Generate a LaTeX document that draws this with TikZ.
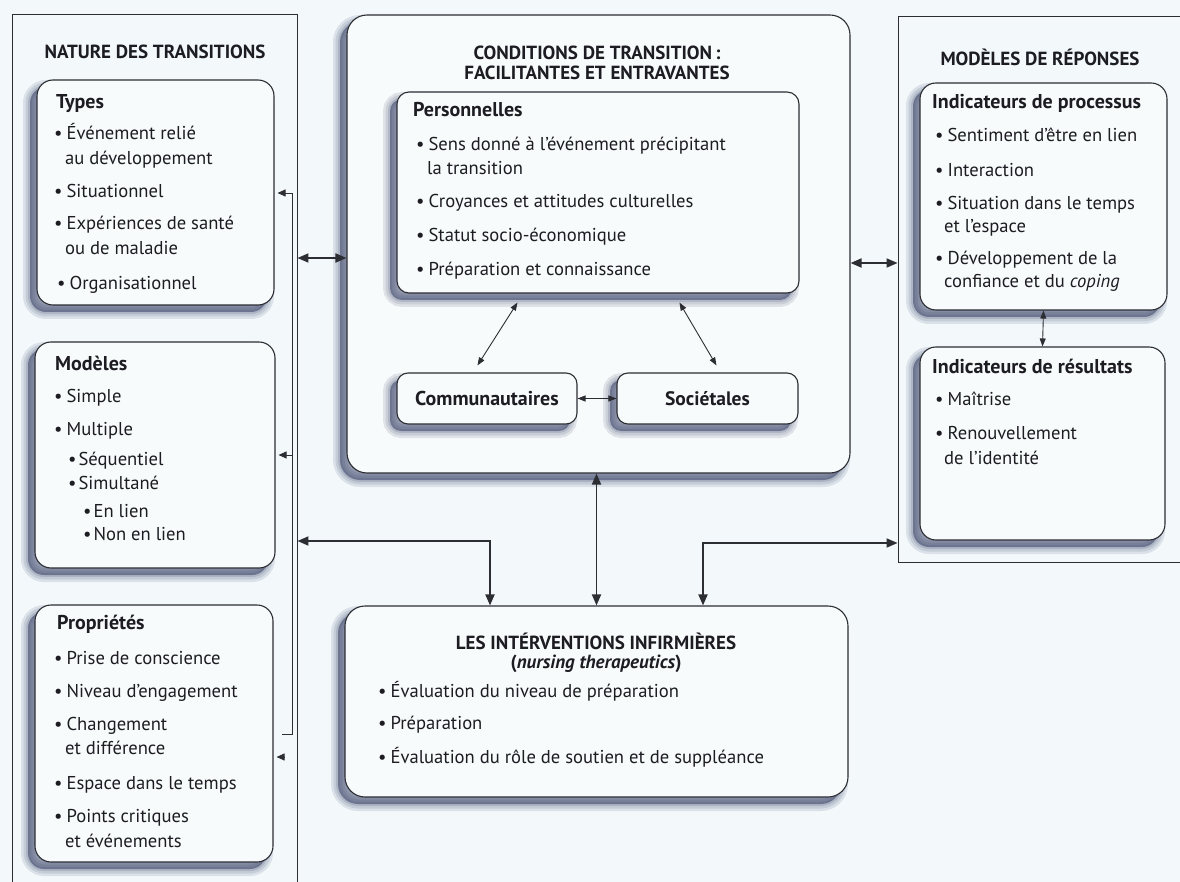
\documentclass[tikz,border=0pt]{standalone}
\usepackage{fontspec}
\setmainfont{PT Sans}
\usetikzlibrary{arrows.meta,calc}
\definecolor{bgc}{RGB}{243,249,251}
\definecolor{boxc}{RGB}{248,251,252}
\definecolor{linec}{RGB}{45,45,52}
\definecolor{txt}{RGB}{28,28,34}
\definecolor{shc}{RGB}{45,55,95}
\newcommand\bul{\textbullet\hspace{4pt}}
\newcommand\bulS{\textbullet\hspace{2pt}}
\tikzset{
  softshadow/.style={
    preaction={fill=shc, fill opacity=0.5, transform canvas={xshift=-7pt,yshift=-7pt}},
    preaction={draw=shc, draw opacity=0.12, line width=14pt, transform canvas={xshift=-7pt,yshift=-7pt}},
    preaction={draw=shc, draw opacity=0.12, line width=9pt, transform canvas={xshift=-7pt,yshift=-7pt}},
    preaction={draw=shc, draw opacity=0.15, line width=4pt, transform canvas={xshift=-7pt,yshift=-7pt}}
  },
  rbox/.style={draw=linec, line width=1.1pt, fill=boxc, rounded corners=16pt, softshadow, inner sep=0pt},
  sbox/.style={draw=linec, line width=1.1pt, fill=boxc, rounded corners=11pt, softshadow, inner sep=0pt,
    text=txt},
  obox/.style={draw=linec, line width=0.9pt, inner sep=0pt},
  t/.style={anchor=mid west, inner sep=0pt, text=txt, font=\fontsize{18.6}{21}\selectfont},
  hd/.style={anchor=mid west, inner sep=0pt, text=txt, font=\bfseries\fontsize{20}{22}\selectfont},
  ttl/.style={inner sep=0pt, text=txt, align=center, font=\bfseries\fontsize{19}{19.5}\selectfont},
  thk/.style={line width=1.8pt, draw=linec, {Triangle[length=11pt,width=9pt]}-{Triangle[length=11pt,width=9pt]}},
  thn/.style={line width=0.9pt, draw=linec, {Triangle[length=8pt,width=6pt]}-{Triangle[length=8pt,width=6pt]}},
  brk/.style={line width=0.9pt, draw=linec},
  sarrow/.style={line width=0.9pt, draw=linec, -{Triangle[length=8pt,width=7pt]}}
}
\begin{document}
\begin{tikzpicture}[x=1pt,y=-1pt]
\useasboundingbox (0,0) rectangle (1180,882);
\fill[bgc] (0,0) rectangle (1180,882);

% outer frames
\node[obox, minimum width=285pt, minimum height=900pt] (natbox) at (154.5,464) {};
\node[obox, minimum width=302pt, minimum height=546pt] (repbox) at (1049,289) {};

% titles
\node[ttl] (natt) at (155,52) {NATURE DES TRANSITIONS};
\node[ttl] (rept) at (1040,57) {MODÈLES DE RÉPONSES};

% middle frame
\node[rbox, rounded corners=20pt, minimum width=503pt, minimum height=458pt] (midbox) at (598.5,244) {};
\node[ttl] (condt) at (597,63) {CONDITIONS DE TRANSITION\,:\\FACILITANTES ET ENTRAVANTES};

% left boxes
\node[rbox, minimum width=237pt, minimum height=225pt] (types) at (155.5,192.5) {};
\node[rbox, minimum width=240pt, minimum height=226pt] (models) at (155,455) {};
\node[rbox, minimum width=238pt, minimum height=257pt] (prop) at (154,733.5) {};

% middle inner boxes
\node[rbox, rounded corners=12pt, minimum width=402pt, minimum height=201pt] (pers) at (598,192.5) {};
\node[sbox, minimum width=180pt, minimum height=51pt, font=\bfseries\fontsize{20}{22}\selectfont] (comm) at (487,398.5) {Communautaires};
\node[sbox, minimum width=181pt, minimum height=51pt, font=\bfseries\fontsize{19.5}{22}\selectfont] (soc) at (707.5,398.5) {Sociétales};

% right boxes
\node[rbox, minimum width=247pt, minimum height=227pt] (proc) at (1043.5,196.5) {};
\node[rbox, minimum width=245pt, minimum height=193pt] (res) at (1042.5,443.5) {};

% bottom box
\node[rbox, rounded corners=20pt, minimum width=503pt, minimum height=191pt] (intbox) at (596.5,701.5) {};
\node[ttl] (intt) at (596,653) {LES INTÉRVENTIONS INFIRMIÈRES\\(\textit{nursing therapeutics})};

% Types text
\node[hd] (ty0) at (56,106) {Types};
\node[t] (ty1) at (54,137) {\bul Événement relié};
\node[t] (ty1b) at (65,162) {au développement};
\node[t] (ty2) at (54,195) {\bul Situationnel};
\node[t] (ty3) at (54,227) {\bul Expériences de santé};
\node[t] (ty3b) at (65,252) {ou de maladie};
\node[t] (ty4) at (57,287) {\bul Organisationnel};

% Modeles text
\node[hd] (mo0) at (55,368) {Modèles};
\node[t] (mo1) at (54,400) {\bul Simple};
\node[t] (mo2) at (54,433) {\bul Multiple};
\node[t] (mo3) at (68,463) {\bulS Séquentiel};
\node[t] (mo4) at (68,487) {\bulS Simultané};
\node[t] (mo5) at (83,515) {\bulS En lien};
\node[t] (mo6) at (83,538) {\bulS Non en lien};

% Proprietes text
\node[hd] (pr0) at (57,627) {Propriétés};
\node[t] (pr1) at (54,662) {\bul Prise de conscience};
\node[t] (pr2) at (54,695) {\bul Niveau d’engagement};
\node[t] (pr3) at (54,728) {\bul Changement};
\node[t] (pr3b) at (65,752) {et différence};
\node[t] (pr4) at (54,787) {\bul Espace dans le temps};
\node[t] (pr5) at (54,820) {\bul Points critiques};
\node[t] (pr5b) at (65,845) {et événements};

% Personnelles text
\node[hd] (pe0) at (413,114) {Personnelles};
\node[t] (pe1) at (416,148) {\bul Sens donné à l’événement précipitant};
\node[t] (pe1b) at (427,172) {la transition};
\node[t] (pe2) at (416,205) {\bul Croyances et attitudes culturelles};
\node[t] (pe3) at (416,239) {\bul Statut socio-économique};
\node[t] (pe4) at (416,273) {\bul Préparation et connaissance};

% Processus text
\node[hd] (ip0) at (932,106) {Indicateurs de processus};
\node[t] (ip1) at (935,139) {\bul Sentiment d’être en lien};
\node[t] (ip2) at (935,174) {\bul Interaction};
\node[t] (ip3) at (935,207) {\bul Situation dans le temps};
\node[t] (ip3b) at (944,230) {et l’espace};
\node[t] (ip4) at (935,262) {\bul Développement de la};
\node[t] (ip4b) at (944,285) {confiance et du \textit{coping}};

% Resultats text
\node[hd] (ir0) at (932,371) {Indicateurs de résultats};
\node[t] (ir1) at (935,403) {\bul Maîtrise};
\node[t] (ir2) at (935,437) {\bul Renouvellement};
\node[t] (ir2b) at (944,462) {de l’identité};

% Interventions text
\node[t] (iv1) at (378,695) {\bul Évaluation du niveau de préparation};
\node[t] (iv2) at (378,727) {\bul Préparation};
\node[t] (iv3) at (378,761) {\bul Évaluation du rôle de soutien et de suppléance};

% connectors
\draw[thk] (natbox.east |- 0,258) -- (midbox.west |- 0,258);
\draw[thk] (midbox.east |- 0,263) -- (repbox.west |- 0,263);
\draw[thk] (intbox.north |- midbox.south) -- (intbox.north);
\draw[thk] ([xshift=-106.5pt]intbox.north) |- (natbox.east |- 0,541);
\draw[thk] ([xshift=106.5pt]intbox.north) |- (repbox.west |- 0,543);
\draw[thn] ([shift={(121,9)}]pers.south west) -- ([shift={(81,-7)}]comm.north west);
\draw[thn] ([shift={(283,9)}]pers.south west) -- ([shift={(100,-7)}]soc.north west);
\draw[thn] (comm.east) -- (soc.west);
\draw[thn] (proc.south) -- (res.north);

% bracket on the left
\coordinate (brb) at (282,734);
\coordinate (brt) at (292,193);
\draw[brk] (brb) -| (brt);
\draw[sarrow, shorten >=3pt] (brt) -- (types.east |- brt);
\draw[sarrow, shorten >=3pt] (brt |- models.east) -- (models.east);
\draw[sarrow, shorten >=3pt] ([xshift=11pt]prop.east |- 0,757) -- (prop.east |- 0,757);
\end{tikzpicture}
\end{document}
